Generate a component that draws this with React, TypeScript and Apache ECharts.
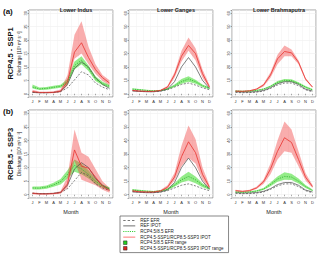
import React, { useEffect, useRef } from 'react';
import * as echarts from 'echarts';

const FONT = '"Liberation Sans", Arial, Helvetica, sans-serif';

const months = ['Jan', 'Feb', 'Mar', 'Apr', 'May', 'Jun', 'Jul', 'Aug', 'Sep', 'Oct', 'Nov', 'Dec'];
const basins = ['Lower Indus', 'Lower Ganges', 'Lower Brahmaputra'];
const scenarios = ['RCP4.5 - SSP1', 'RCP8.5 - SSP3'];
const panelTags = ['(a)', '(b)'];
const yMaxByBasin = [30, 60, 60];
const yLabel = 'Discharge [10\u00b3 m\u00b3 s\u207b\u00b9]';
const legendNames = [
  'REF EFR',
  'REF IPOT',
  'RCP4.5/8.5 EFR',
  'RCP4.5-SSP1/RCP8.5-SSP3 IPOT',
  'RCP4.5/8.5 EFR range',
  'RCP4.5-SSP1/RCP8.5-SSP3 IPOT range',
];

// Reference period (same in both rows)
const indusRefEfr = [0.6, 0.4, 0.4, 0.5, 0.8, 2.2, 5.2, 8.2, 7.0, 4.0, 2.5, 1.5];
const indusRefIpot = [0.5, 0.4, 0.4, 0.5, 0.9, 3.5, 9.5, 11.8, 10.0, 6.0, 3.5, 2.0];
const gangesRefEfr = [2.5, 2.0, 1.7, 1.6, 2.0, 3.0, 5.0, 7.0, 8.0, 6.5, 4.5, 3.0];
const gangesRefIpot = [2.0, 1.8, 1.5, 1.5, 2.0, 3.5, 9.0, 20.0, 27.0, 20.0, 10.0, 4.0];
const brahmaRefEfr = [1.0, 0.8, 0.9, 1.2, 2.0, 4.0, 6.5, 8.0, 8.0, 6.0, 3.0, 1.5];
const brahmaRefIpot = [1.5, 1.2, 1.3, 1.6, 2.5, 4.5, 7.5, 9.0, 9.0, 7.0, 3.5, 2.0];

// RCP4.5 - SSP1
const indus45Efr = [2.5, 1.8, 2.0, 2.4, 2.8, 4.5, 10.5, 12.5, 9.5, 5.5, 3.8, 2.8];
const indus45EfrLo = [2.0, 1.4, 1.5, 1.9, 2.2, 3.5, 9.0, 11.0, 8.5, 4.8, 3.2, 2.2];
const indus45EfrHi = [3.5, 2.3, 2.5, 3.0, 3.4, 5.5, 12.0, 14.0, 10.5, 6.5, 4.5, 3.4];
const indus45Ipot = [0.8, 0.5, 0.5, 0.5, 1.0, 4.5, 15.5, 19.0, 13.5, 9.0, 6.0, 4.0];
const indus45IpotLo = [0.3, 0.2, 0.2, 0.2, 0.5, 3.0, 13.0, 15.0, 11.0, 7.5, 4.8, 3.2];
const indus45IpotHi = [1.5, 0.8, 0.8, 0.9, 1.6, 7.0, 22.0, 27.0, 17.5, 11.0, 7.0, 5.0];

const ganges45Efr = [3.5, 3.0, 2.5, 2.2, 2.5, 3.5, 6.0, 9.0, 11.0, 9.0, 6.0, 4.0];
const ganges45EfrLo = [3.0, 2.6, 2.2, 2.0, 2.2, 3.0, 5.0, 7.5, 9.0, 7.5, 5.0, 3.4];
const ganges45EfrHi = [4.2, 3.5, 3.0, 2.6, 2.9, 4.2, 7.0, 11.0, 13.0, 10.5, 7.0, 4.8];
const ganges45Ipot = [2.5, 2.0, 1.8, 1.8, 2.5, 5.0, 14.0, 28.0, 36.0, 30.0, 15.0, 5.0];
const ganges45IpotLo = [1.8, 1.5, 1.4, 1.4, 2.0, 4.0, 12.0, 24.0, 32.0, 25.0, 12.0, 4.0];
const ganges45IpotHi = [3.0, 2.5, 2.2, 2.2, 3.0, 6.0, 16.0, 32.0, 42.0, 34.0, 18.0, 6.5];

const brahma45Efr = [2.0, 1.8, 2.0, 2.5, 3.5, 5.5, 8.5, 10.0, 9.8, 7.8, 5.0, 3.0];
const brahma45EfrLo = [1.6, 1.5, 1.6, 2.0, 3.0, 4.8, 7.5, 9.0, 8.8, 7.0, 4.2, 2.5];
const brahma45EfrHi = [2.5, 2.2, 2.4, 3.0, 4.0, 6.2, 9.5, 11.0, 10.8, 8.6, 5.8, 3.6];
const brahma45Ipot = [2.0, 1.8, 2.2, 3.5, 6.5, 14.0, 26.0, 31.5, 30.5, 23.5, 11.0, 5.0];
const brahma45IpotLo = [1.6, 1.4, 1.8, 3.0, 5.5, 12.0, 22.0, 28.0, 28.0, 22.0, 10.0, 4.5];
const brahma45IpotHi = [2.5, 2.2, 2.6, 4.0, 7.5, 16.0, 29.0, 36.0, 33.0, 25.0, 12.0, 5.5];

// RCP8.5 - SSP3
const indus85Efr = [2.5, 2.4, 2.8, 3.6, 4.8, 7.5, 10.8, 9.5, 7.5, 5.0, 3.2, 2.2];
const indus85EfrLo = [1.9, 1.9, 2.2, 2.9, 3.8, 6.0, 8.5, 7.5, 6.0, 4.0, 2.6, 1.7];
const indus85EfrHi = [3.0, 3.0, 3.4, 4.4, 5.8, 9.0, 13.0, 11.5, 9.0, 6.0, 3.8, 2.8];
const indus85Ipot = [0.5, 0.3, 0.3, 0.4, 0.8, 4.0, 16.5, 10.5, 9.8, 6.5, 3.2, 1.5];
const indus85IpotLo = [0.2, 0.1, 0.1, 0.2, 0.4, 2.5, 12.5, 5.5, 4.5, 3.5, 1.8, 0.7];
const indus85IpotHi = [0.9, 0.6, 0.6, 0.7, 1.3, 6.5, 24.0, 15.5, 14.0, 9.5, 5.0, 2.5];

const ganges85Efr = [3.5, 3.0, 2.6, 2.4, 2.8, 4.0, 7.0, 11.0, 13.5, 11.0, 7.0, 4.5];
const ganges85EfrLo = [2.8, 2.5, 2.2, 2.0, 2.4, 3.3, 5.8, 9.0, 10.5, 8.5, 5.5, 3.6];
const ganges85EfrHi = [4.2, 3.6, 3.1, 2.8, 3.3, 4.8, 8.5, 13.5, 17.0, 13.5, 8.5, 5.5];
const ganges85Ipot = [2.8, 2.2, 2.0, 2.0, 2.8, 5.5, 13.0, 28.0, 39.0, 31.0, 15.0, 5.5];
const ganges85IpotLo = [2.0, 1.6, 1.5, 1.5, 2.2, 4.5, 10.5, 21.0, 27.0, 23.0, 11.0, 4.0];
const ganges85IpotHi = [3.6, 2.8, 2.5, 2.5, 3.4, 7.0, 16.0, 36.0, 51.0, 41.0, 20.0, 7.0];

const brahma85Efr = [2.0, 1.8, 2.0, 2.7, 4.2, 7.5, 11.5, 13.5, 13.0, 10.0, 6.0, 3.2];
const brahma85EfrLo = [1.6, 1.5, 1.6, 2.2, 3.5, 6.2, 9.5, 11.0, 10.8, 8.2, 5.0, 2.6];
const brahma85EfrHi = [2.5, 2.2, 2.5, 3.3, 5.0, 9.0, 13.5, 16.5, 15.5, 12.0, 7.2, 3.8];
const brahma85Ipot = [3.0, 2.5, 3.0, 5.0, 9.5, 19.0, 32.0, 42.0, 38.5, 26.0, 13.0, 6.0];
const brahma85IpotLo = [2.5, 2.0, 2.5, 4.2, 8.0, 15.0, 26.0, 32.0, 31.0, 21.0, 10.5, 5.0];
const brahma85IpotHi = [3.6, 3.0, 3.6, 5.8, 11.0, 23.0, 40.0, 54.0, 48.0, 32.0, 16.0, 7.2];

type Panel = {
  refEfr: number[]; refIpot: number[];
  efr: number[]; efrLo: number[]; efrHi: number[];
  ipot: number[]; ipotLo: number[]; ipotHi: number[];
};

const panels: Panel[][] = [
  [
    { refEfr: indusRefEfr, refIpot: indusRefIpot, efr: indus45Efr, efrLo: indus45EfrLo, efrHi: indus45EfrHi, ipot: indus45Ipot, ipotLo: indus45IpotLo, ipotHi: indus45IpotHi },
    { refEfr: gangesRefEfr, refIpot: gangesRefIpot, efr: ganges45Efr, efrLo: ganges45EfrLo, efrHi: ganges45EfrHi, ipot: ganges45Ipot, ipotLo: ganges45IpotLo, ipotHi: ganges45IpotHi },
    { refEfr: brahmaRefEfr, refIpot: brahmaRefIpot, efr: brahma45Efr, efrLo: brahma45EfrLo, efrHi: brahma45EfrHi, ipot: brahma45Ipot, ipotLo: brahma45IpotLo, ipotHi: brahma45IpotHi },
  ],
  [
    { refEfr: indusRefEfr, refIpot: indusRefIpot, efr: indus85Efr, efrLo: indus85EfrLo, efrHi: indus85EfrHi, ipot: indus85Ipot, ipotLo: indus85IpotLo, ipotHi: indus85IpotHi },
    { refEfr: gangesRefEfr, refIpot: gangesRefIpot, efr: ganges85Efr, efrLo: ganges85EfrLo, efrHi: ganges85EfrHi, ipot: ganges85Ipot, ipotLo: ganges85IpotLo, ipotHi: ganges85IpotHi },
    { refEfr: brahmaRefEfr, refIpot: brahmaRefIpot, efr: brahma85Efr, efrLo: brahma85EfrLo, efrHi: brahma85EfrHi, ipot: brahma85Ipot, ipotLo: brahma85IpotLo, ipotHi: brahma85IpotHi },
  ],
];

const colLeft = [29, 129, 232];
const panelW = 84;
const rowTop = [10, 110];
const rowH = [87, 88];

const GREEN_BAND = 'rgba(60,220,40,0.55)';
const RED_BAND = 'rgba(240,60,60,0.42)';
const RED_LINE = '#e8322f';
const GREEN_LINE = '#2fb52f';
const GREY_LINE = '#4a4a4a';

// legend icons (12 x 4 box, kept by the trailing move-to points)
const BOX = 'M0,0M12,4';
const segIcon = (dash: number, gap: number) => {
  let d = '';
  for (let x = 0; x < 12; x += dash + gap) {
    const e = Math.min(12, x + dash);
    d += `M${x},1.6L${e},1.6L${e},2.4L${x},2.4Z`;
  }
  return 'path://' + d + BOX;
};
const ICON_SOLID = segIcon(12, 1);
const ICON_DASH = segIcon(2.4, 2.0);
const ICON_DOT = segIcon(1.1, 1.1);
const ICON_SQUARE = 'path://M0.2,0.2L3.8,0.2L3.8,3.8L0.2,3.8Z' + BOX;

function buildOption() {
  const grid: any[] = [];
  const xAxis: any[] = [];
  const yAxis: any[] = [];
  const series: any[] = [];
  const title: any[] = [];
  let idx = 0;
  for (let r = 0; r < 2; r++) {
    for (let c = 0; c < 3; c++) {
      const p = panels[r][c];
      const ymax = yMaxByBasin[c];
      grid.push({
        left: colLeft[c], top: rowTop[r], width: panelW, height: rowH[r],
        show: true, borderColor: '#7a7a7a', borderWidth: 0.7, backgroundColor: 'transparent',
      });
      xAxis.push({
        type: 'category', gridIndex: idx, data: months, boundaryGap: true,
        axisLine: { show: false },
        axisTick: { show: true, alignWithLabel: true, length: 1.5, lineStyle: { color: '#555', width: 0.5 } },
        axisLabel: { interval: 0, fontSize: 4, margin: 2.5, color: '#333', fontFamily: FONT, formatter: (v: string) => v.charAt(0) },
        splitLine: { show: true, interval: 0, lineStyle: { color: '#f1f1f1', width: 0.5 } },
        name: r === 1 ? 'Month' : '', nameLocation: 'middle', nameGap: 10.5,
        nameTextStyle: { fontSize: 5.5, fontFamily: FONT, color: '#222' },
      });
      yAxis.push({
        type: 'value', gridIndex: idx, min: -0.04 * ymax, max: 1.04 * ymax,
        axisLine: { show: false },
        axisTick: { show: true, length: 1.5, lineStyle: { color: '#555', width: 0.5 } },
        axisLabel: {
          fontSize: 4, margin: 2, rotate: 90, color: '#333', fontFamily: FONT,
          formatter: (v: number) => (Math.abs(v - Math.round(v)) < 1e-6 && v >= 0 ? String(Math.round(v)) : ''),
        },
        splitLine: { show: true, lineStyle: { color: '#ebebeb', width: 0.5 } },
      });
      if (r === 0) {
        title.push({
          text: basins[c], left: colLeft[c] + panelW / 2, top: 2, textAlign: 'center',
          textStyle: { fontSize: 5.5, fontWeight: 'bold', color: '#222', fontFamily: FONT },
        });
      }
      const common = { xAxisIndex: idx, yAxisIndex: idx, symbol: 'none', showSymbol: false };
      series.push({ ...common, type: 'line', data: p.efrLo, stack: 'g' + idx, lineStyle: { opacity: 0 }, silent: true, z: 1 });
      series.push({
        ...common, type: 'line', name: legendNames[4], data: p.efrHi.map((v, i) => v - p.efrLo[i]), stack: 'g' + idx,
        lineStyle: { opacity: 0 }, areaStyle: { color: GREEN_BAND, opacity: 1 }, color: '#22cc22', z: 1,
      });
      series.push({ ...common, type: 'line', data: p.ipotLo, stack: 'r' + idx, lineStyle: { opacity: 0 }, silent: true, z: 2 });
      series.push({
        ...common, type: 'line', name: legendNames[5], data: p.ipotHi.map((v, i) => v - p.ipotLo[i]), stack: 'r' + idx,
        lineStyle: { opacity: 0 }, areaStyle: { color: RED_BAND, opacity: 1 }, color: '#dd2222', z: 2,
      });
      series.push({ ...common, type: 'line', name: legendNames[0], data: p.refEfr, color: GREY_LINE, lineStyle: { color: GREY_LINE, width: 0.7, type: [2, 1.5] }, z: 3 });
      series.push({ ...common, type: 'line', name: legendNames[1], data: p.refIpot, color: GREY_LINE, lineStyle: { color: GREY_LINE, width: 0.7 }, z: 3 });
      series.push({ ...common, type: 'line', name: legendNames[2], data: p.efr, color: GREEN_LINE, lineStyle: { color: GREEN_LINE, width: 0.9, type: [1.2, 1.2] }, z: 4 });
      series.push({ ...common, type: 'line', name: legendNames[3], data: p.ipot, color: RED_LINE, lineStyle: { color: RED_LINE, width: 0.8 }, z: 4 });
      idx++;
    }
  }

  const graphic: any[] = [];
  for (let r = 0; r < 2; r++) {
    const cy = rowTop[r] + rowH[r] / 2;
    graphic.push({
      type: 'text', left: 3, top: rowTop[r] - 3,
      style: { text: panelTags[r], fontSize: 8, fontWeight: 'bold', fill: '#111', fontFamily: FONT },
    });
    graphic.push({
      type: 'text', x: 10.5, y: cy, rotation: Math.PI / 2,
      style: { text: scenarios[r], fontSize: 7.5, fontWeight: 'bold', fill: '#111', fontFamily: FONT, align: 'center', verticalAlign: 'middle' },
    });
    graphic.push({
      type: 'text', x: 19.5, y: cy, rotation: Math.PI / 2,
      style: { text: yLabel, fontSize: 4.5, fill: '#222', fontFamily: FONT, align: 'center', verticalAlign: 'middle' },
    });
  }

  const lineItem = (name: string, icon: string, color: string) => ({ name, icon, itemStyle: { color, borderWidth: 0, opacity: 1 } });

  return {
    animation: false,
    textStyle: { fontFamily: FONT },
    title,
    grid,
    xAxis,
    yAxis,
    series,
    graphic,
    legend: {
      left: 120, top: 216, orient: 'vertical',
      padding: [1.5, 5, 1.5, 3], itemGap: 0, itemWidth: 12, itemHeight: 4,
      borderColor: '#555', borderWidth: 0.7, backgroundColor: '#fff',
      selectedMode: false, symbolKeepAspect: true,
      textStyle: { fontSize: 4.5, color: '#222', fontFamily: FONT, lineHeight: 5.6 },
      data: [
        lineItem(legendNames[0], ICON_DASH, GREY_LINE),
        lineItem(legendNames[1], ICON_SOLID, GREY_LINE),
        lineItem(legendNames[2], ICON_DOT, '#33cc33'),
        lineItem(legendNames[3], ICON_SOLID, '#ff5555'),
        { name: legendNames[4], icon: ICON_SQUARE, itemStyle: { color: '#22cc22', borderColor: '#222', borderWidth: 0.5 } },
        { name: legendNames[5], icon: ICON_SQUARE, itemStyle: { color: '#dd2222', borderColor: '#222', borderWidth: 0.5 } },
      ],
    },
  };
}

export default function App() {
  const ref = useRef<HTMLDivElement>(null);
  useEffect(() => {
    document.body.style.margin = '0';
    if (!ref.current) return;
    const chart = echarts.init(ref.current, undefined, { renderer: 'svg' });
    chart.setOption(buildOption() as any);
    return () => chart.dispose();
  }, []);
  return <div ref={ref} style={{ width: 320, height: 257, background: '#fff' }} />;
}
